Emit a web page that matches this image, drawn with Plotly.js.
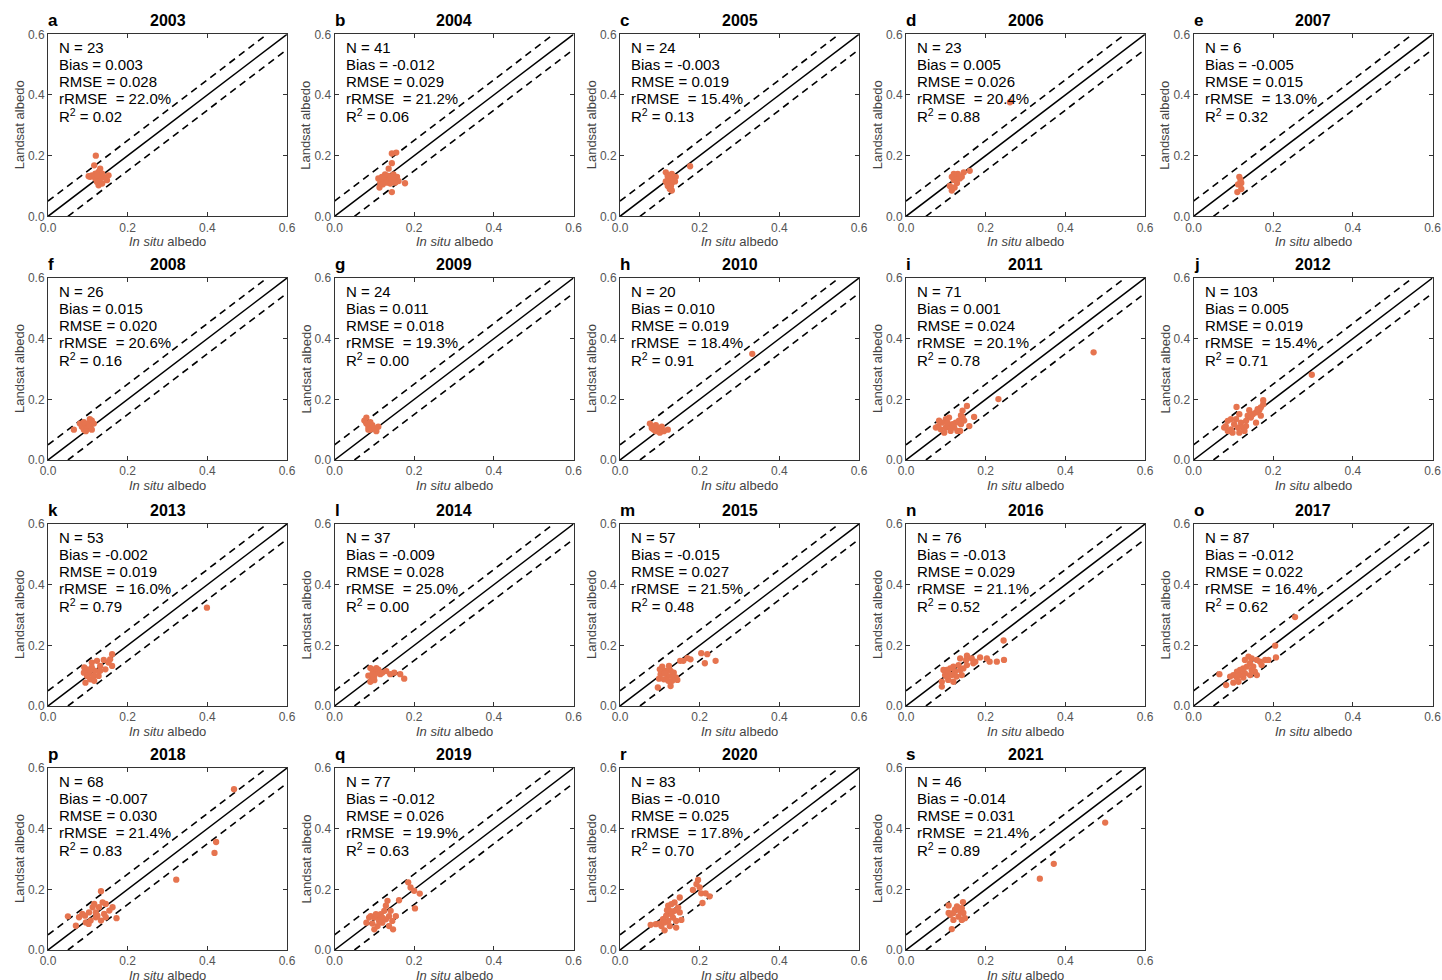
<!DOCTYPE html>
<html><head><meta charset="utf-8">
<script src="https://cdn.plot.ly/plotly-3.0.1.min.js"></script>
<style>html,body{margin:0;padding:0;background:#fff}#chart{width:1442px;height:980px}</style>
</head><body><div id="chart"></div>
<script>
const years = [2003,2004,2005,2006,2007,2008,2009,2010,2011,2012,2013,2014,2015,2016,2017,2018,2019,2020,2021];
const letters = ['a','b','c','d','e','f','g','h','i','j','k','l','m','n','o','p','q','r','s'];
const nVals = [23,41,24,23,6,26,24,20,71,103,53,37,57,76,87,68,77,83,46];
const biasVals = ['0.003','-0.012','-0.003','0.005','-0.005','0.015','0.011','0.010','0.001','0.005','-0.002','-0.009','-0.015','-0.013','-0.012','-0.007','-0.012','-0.010','-0.014'];
const rmseVals = ['0.028','0.029','0.019','0.026','0.015','0.020','0.018','0.019','0.024','0.019','0.019','0.028','0.027','0.029','0.022','0.030','0.026','0.025','0.031'];
const rrmseVals = ['22.0','21.2','15.4','20.4','13.0','20.6','19.3','18.4','20.1','15.4','16.0','25.0','21.5','21.1','16.4','21.4','19.9','17.8','21.4'];
const r2Vals = ['0.02','0.06','0.13','0.88','0.32','0.16','0.00','0.91','0.78','0.71','0.79','0.00','0.48','0.52','0.62','0.83','0.63','0.70','0.89'];
const tickVals = [0,0.2,0.4,0.6];
const tickText = ['0.0','0.2','0.4','0.6'];
const oneToOne = [0,0.6];
const upperX = [0,0.55], upperY = [0.05,0.6];
const lowerX = [0.05,0.6], lowerY = [0,0.55];

const x2003 = [0.12,0.116,0.11,0.106,0.119,0.127,0.131,0.123,0.127,0.136,0.148,0.152,0.14,0.131,0.119,0.115,0.125,0.146,0.102,0.129,0.136,0.123,0.131];
const y2003 = [0.20,0.168,0.135,0.13,0.141,0.146,0.157,0.113,0.102,0.108,0.119,0.135,0.13,0.124,0.124,0.132,0.119,0.124,0.132,0.135,0.141,0.135,0.11];
const x2004 = [0.144,0.155,0.144,0.136,0.177,0.144,0.11,0.115,0.113,0.123,0.127,0.136,0.14,0.148,0.157,0.161,0.152,0.131,0.121,0.14,0.127,0.119,0.148];
const y2004 = [0.207,0.21,0.175,0.157,0.109,0.08,0.125,0.111,0.095,0.116,0.127,0.133,0.122,0.138,0.13,0.116,0.111,0.111,0.105,0.108,0.138,0.13,0.124];
const x2005 = [0.115,0.12,0.125,0.13,0.12,0.125,0.13,0.115,0.135,0.14,0.12,0.13,0.128,0.118,0.138,0.176];
const y2005 = [0.145,0.13,0.12,0.11,0.10,0.09,0.085,0.115,0.125,0.13,0.135,0.14,0.10,0.11,0.115,0.165];
const x2006 = [0.11,0.115,0.12,0.125,0.13,0.12,0.135,0.14,0.115,0.128,0.16,0.145,0.122,0.261];
const y2006 = [0.10,0.085,0.12,0.13,0.14,0.14,0.125,0.13,0.13,0.11,0.15,0.145,0.095,0.376];
const x2007 = [0.115,0.118,0.12,0.112,0.12,0.11];
const y2007 = [0.13,0.12,0.11,0.105,0.09,0.08];
const x2008 = [0.08,0.085,0.09,0.095,0.1,0.1,0.105,0.11,0.11,0.09,0.115,0.095,0.105,0.065];
const y2008 = [0.12,0.11,0.10,0.115,0.12,0.105,0.11,0.13,0.10,0.125,0.12,0.095,0.135,0.10];
const x2009 = [0.075,0.08,0.085,0.09,0.095,0.1,0.105,0.085,0.08,0.11,0.09];
const y2009 = [0.13,0.12,0.11,0.10,0.115,0.105,0.095,0.10,0.14,0.11,0.125];
const x2010 = [0.075,0.08,0.085,0.09,0.095,0.1,0.105,0.11,0.12,0.08,0.09,0.1,0.332];
const y2010 = [0.12,0.11,0.10,0.095,0.105,0.10,0.11,0.095,0.10,0.105,0.115,0.09,0.35];
const x2011 = [0.471,0.232,0.153,0.171,0.159,0.142,0.138,0.133,0.129,0.121,0.108,0.1,0.091,0.083,0.075,0.087,0.1,0.108,0.112,0.096,0.125,0.138,0.146,0.117,0.104,0.081,0.136,0.142];
const y2011 = [0.355,0.201,0.178,0.142,0.112,0.163,0.147,0.13,0.096,0.107,0.14,0.135,0.123,0.13,0.107,0.101,0.107,0.112,0.096,0.09,0.123,0.118,0.13,0.118,0.123,0.112,0.096,0.141];
const x2012 = [0.297,0.175,0.175,0.169,0.165,0.157,0.14,0.136,0.144,0.157,0.169,0.108,0.115,0.094,0.086,0.077,0.086,0.098,0.111,0.102,0.119,0.123,0.115,0.132,0.107,0.094,0.128,0.149,0.161,0.081,0.132];
const y2012 = [0.281,0.197,0.184,0.173,0.164,0.157,0.164,0.146,0.14,0.123,0.146,0.175,0.151,0.135,0.129,0.107,0.096,0.09,0.107,0.118,0.123,0.107,0.09,0.112,0.135,0.101,0.096,0.151,0.168,0.112,0.129];
const x2013 = [0.399,0.161,0.14,0.131,0.144,0.152,0.161,0.156,0.123,0.11,0.098,0.09,0.102,0.106,0.094,0.115,0.119,0.11,0.106,0.098,0.127,0.131,0.091,0.116];
const y2013 = [0.324,0.171,0.152,0.132,0.121,0.143,0.132,0.154,0.149,0.143,0.121,0.11,0.105,0.088,0.077,0.099,0.116,0.127,0.116,0.099,0.099,0.116,0.127,0.083];
const x2014 = [0.09,0.095,0.1,0.105,0.1,0.095,0.09,0.11,0.115,0.1,0.12,0.13,0.14,0.15,0.165,0.175,0.105,0.085,0.095];
const y2014 = [0.125,0.12,0.115,0.11,0.10,0.09,0.08,0.12,0.105,0.085,0.11,0.115,0.105,0.11,0.105,0.09,0.125,0.10,0.105];
const x2015 = [0.24,0.219,0.204,0.213,0.177,0.169,0.159,0.151,0.14,0.131,0.127,0.123,0.115,0.106,0.102,0.098,0.095,0.11,0.127,0.144,0.119,0.135,0.106,0.1,0.112,0.121,0.131];
const y2015 = [0.149,0.171,0.174,0.141,0.154,0.158,0.149,0.149,0.094,0.099,0.116,0.132,0.116,0.121,0.105,0.09,0.061,0.088,0.066,0.086,0.099,0.11,0.13,0.121,0.108,0.083,0.083];
const x2016 = [0.245,0.246,0.228,0.21,0.203,0.186,0.174,0.165,0.153,0.151,0.136,0.132,0.119,0.111,0.102,0.094,0.098,0.09,0.09,0.106,0.119,0.127,0.14,0.144,0.123,0.115,0.106,0.153,0.169,0.136,0.102];
const y2016 = [0.216,0.152,0.146,0.146,0.157,0.16,0.146,0.157,0.166,0.152,0.157,0.135,0.13,0.124,0.119,0.119,0.102,0.08,0.064,0.086,0.08,0.097,0.102,0.124,0.113,0.102,0.108,0.135,0.141,0.119,0.097];
const x2017 = [0.255,0.205,0.207,0.188,0.18,0.167,0.171,0.159,0.146,0.138,0.129,0.142,0.134,0.125,0.117,0.109,0.1,0.092,0.065,0.082,0.1,0.113,0.125,0.142,0.154,0.159,0.146,0.117,0.129,0.109,0.15];
const y2017 = [0.293,0.199,0.16,0.152,0.152,0.146,0.135,0.152,0.157,0.163,0.152,0.141,0.13,0.124,0.119,0.113,0.102,0.097,0.105,0.069,0.077,0.08,0.094,0.102,0.113,0.102,0.119,0.102,0.108,0.094,0.13];
const x2018 = [0.467,0.422,0.418,0.322,0.133,0.172,0.162,0.145,0.137,0.154,0.128,0.12,0.112,0.103,0.093,0.095,0.07,0.05,0.078,0.107,0.12,0.133,0.141,0.116,0.124,0.102,0.086,0.145];
const y2018 = [0.53,0.356,0.32,0.232,0.194,0.105,0.141,0.152,0.157,0.13,0.141,0.124,0.141,0.124,0.113,0.091,0.08,0.111,0.108,0.097,0.108,0.097,0.119,0.152,0.113,0.086,0.119,0.108];
const x2019 = [0.185,0.191,0.2,0.214,0.202,0.162,0.154,0.137,0.133,0.129,0.125,0.116,0.108,0.1,0.091,0.08,0.095,0.1,0.108,0.12,0.137,0.147,0.129,0.141,0.12,0.112,0.145,0.104,0.087];
const y2019 = [0.223,0.206,0.195,0.186,0.137,0.164,0.112,0.112,0.162,0.146,0.129,0.118,0.112,0.107,0.112,0.09,0.087,0.068,0.079,0.09,0.079,0.068,0.101,0.129,0.107,0.096,0.096,0.118,0.107];
const x2020 = [0.196,0.192,0.2,0.204,0.215,0.225,0.207,0.183,0.15,0.15,0.154,0.141,0.137,0.129,0.121,0.125,0.137,0.116,0.108,0.1,0.09,0.077,0.112,0.121,0.133,0.141,0.125,0.104,0.118,0.146,0.129,0.112];
const y2020 = [0.231,0.217,0.206,0.187,0.187,0.177,0.155,0.198,0.173,0.124,0.099,0.074,0.157,0.151,0.146,0.129,0.129,0.113,0.102,0.087,0.085,0.083,0.065,0.096,0.107,0.096,0.079,0.079,0.131,0.14,0.118,0.091];
const x2021 = [0.5,0.371,0.336,0.107,0.143,0.148,0.136,0.128,0.119,0.111,0.119,0.115,0.132,0.14,0.123,0.107,0.144,0.132,0.14];
const y2021 = [0.42,0.284,0.235,0.147,0.158,0.105,0.127,0.144,0.122,0.116,0.099,0.069,0.11,0.099,0.133,0.122,0.122,0.138,0.138];

const xData = [x2003,x2004,x2005,x2006,x2007,x2008,x2009,x2010,x2011,x2012,x2013,x2014,x2015,x2016,x2017,x2018,x2019,x2020,x2021];
const yData = [y2003,y2004,y2005,y2006,y2007,y2008,y2009,y2010,y2011,y2012,y2013,y2014,y2015,y2016,y2017,y2018,y2019,y2020,y2021];

const W = 1442, H = 980;
const colLeft = [48, 334.5, 620, 906, 1193.5];
const rowTop = [34.3, 278, 524, 768];
const pw = 239, ph = 182;
const FONT = 'Liberation Sans, Arial, Helvetica, sans-serif';
const dotColor = '#E6744F';

const data = [];
const layout = {
  width: W, height: H,
  margin: {l:0, r:0, t:0, b:0},
  paper_bgcolor: '#fff', plot_bgcolor: '#fff',
  showlegend: false,
  font: {family: FONT, color: '#000'},
  annotations: []
};

for (let i = 0; i < years.length; i++) {
  const col = i % 5, row = Math.floor(i / 5);
  const sfx = i === 0 ? '' : String(i + 1);
  const xa = 'x' + sfx, ya = 'y' + sfx;
  const x0 = colLeft[col] / W, x1 = (colLeft[col] + pw) / W;
  const y1 = 1 - rowTop[row] / H, y0 = 1 - (rowTop[row] + ph) / H;
  const axCommon = {
    range: [0, 0.6], tickvals: tickVals, ticktext: tickText,
    ticks: 'inside', ticklen: 4, tickwidth: 1, tickcolor: '#333',
    showline: true, linecolor: '#333', linewidth: 1, mirror: 'ticks',
    showgrid: false, zeroline: false, fixedrange: true,
    tickfont: {family: FONT, size: 12, color: '#555'}
  };
  layout['xaxis' + sfx] = Object.assign({}, axCommon, {domain: [x0, x1], anchor: ya});
  layout['yaxis' + sfx] = Object.assign({}, axCommon, {domain: [y0, y1], anchor: xa});

  data.push({x: oneToOne, y: oneToOne, xaxis: xa, yaxis: ya, mode: 'lines',
    line: {color: '#000', width: 1.5}, hoverinfo: 'skip'});
  data.push({x: upperX, y: upperY, xaxis: xa, yaxis: ya, mode: 'lines',
    line: {color: '#000', width: 1.6, dash: '7px,5px'}, hoverinfo: 'skip'});
  data.push({x: lowerX, y: lowerY, xaxis: xa, yaxis: ya, mode: 'lines',
    line: {color: '#000', width: 1.6, dash: '7px,5px'}, hoverinfo: 'skip'});
  data.push({x: xData[i], y: yData[i], xaxis: xa, yaxis: ya, mode: 'markers',
    marker: {color: dotColor, size: 6.3, line: {width: 0}}, cliponaxis: false});

  const xr = xa + ' domain', yr = ya + ' domain';
  const lines = [
    'N = ' + nVals[i],
    'Bias = ' + biasVals[i],
    'RMSE = ' + rmseVals[i],
    'rRMSE \u00a0= ' + rrmseVals[i] + '%',
    'R<sup>2</sup> = ' + r2Vals[i]
  ];
  lines.forEach((t, k) => {
    layout.annotations.push({xref: xr, yref: yr, x: 0, y: 1, xanchor: 'left', yanchor: 'middle',
      xshift: 9, yshift: -(13 + k * 17), text: t, showarrow: false,
      font: {family: FONT, size: 15, color: '#000'}});
  });
  layout.annotations.push({xref: xr, yref: yr, x: 0, y: 1, xanchor: 'left', yanchor: 'middle',
    xshift: -2, yshift: 14, text: '<b>' + letters[i] + '</b>', showarrow: false,
    font: {family: FONT, size: 17, color: '#000'}});
  layout.annotations.push({xref: xr, yref: yr, x: 0.5, y: 1, xanchor: 'center', yanchor: 'middle',
    yshift: 14, text: '<b>' + years[i] + '</b>', showarrow: false,
    font: {family: FONT, size: 16, color: '#000'}});
  layout.annotations.push({xref: xr, yref: yr, x: 0.5, y: 0, xanchor: 'center', yanchor: 'middle',
    yshift: -25, text: '<i>In situ</i> albedo', showarrow: false,
    font: {family: FONT, size: 13, color: '#444'}});
  layout.annotations.push({xref: xr, yref: yr, x: 0, y: 0.5, xanchor: 'center', yanchor: 'middle',
    xshift: -29, textangle: -90, text: 'Landsat albedo', showarrow: false,
    font: {family: FONT, size: 13, color: '#444'}});
}

Plotly.newPlot('chart', data, layout, {displayModeBar: false, staticPlot: true});
</script>
</body></html>
